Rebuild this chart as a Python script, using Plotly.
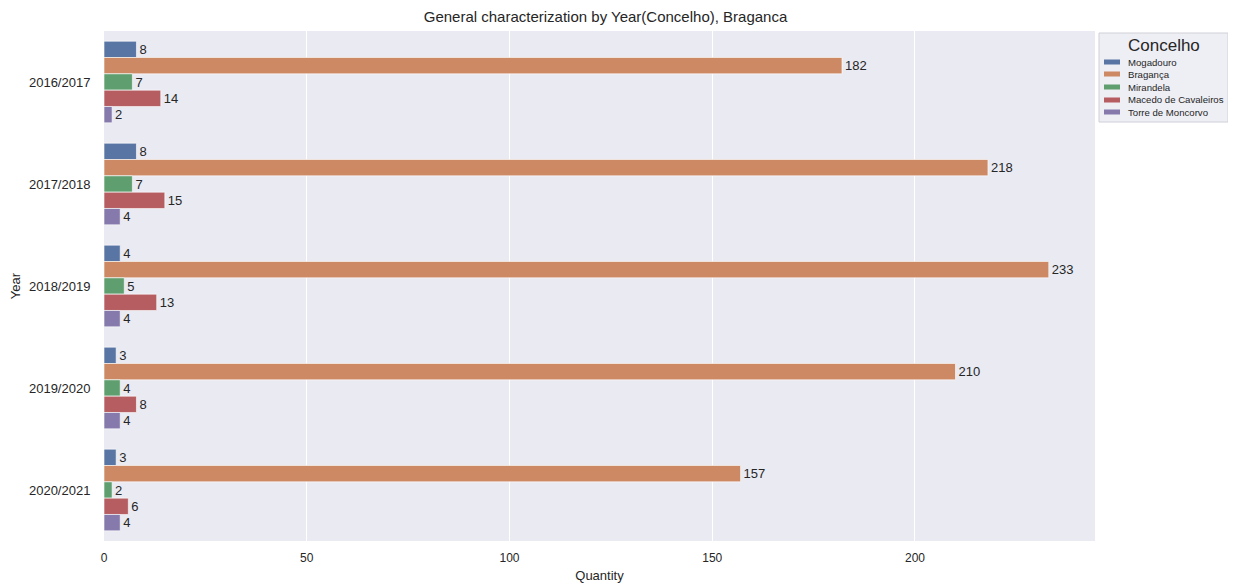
import plotly.graph_objects as go

years = ["2016/2017", "2017/2018", "2018/2019", "2019/2020", "2020/2021"]
concelhos = ["Mogadouro", "Bragança", "Mirandela", "Macedo de Cavaleiros", "Torre de Moncorvo"]
mogadouro = [8, 8, 4, 3, 3]
braganca = [182, 218, 233, 210, 157]
mirandela = [7, 7, 5, 4, 2]
macedo = [14, 15, 13, 8, 6]
moncorvo = [2, 4, 4, 4, 4]
series = [mogadouro, braganca, mirandela, macedo, moncorvo]
colors = ["#5975a4", "#cc8963", "#5f9e6e", "#b55d60", "#857aab"]
x_ticks = [0, 50, 100, 150, 200]

W, H = 1228, 576          # page body has an 8px margin: figure occupies 8..1236 x 8..584
ML, MR, MT, MB = 96, 141, 23, 43
PW, PH = W - ML - MR, H - MT - MB


def px_x(x):
    return (x - ML) / PW


def px_y(y):
    return (H - MB - y) / PH


fig = go.Figure()
for name, vals, col in zip(concelhos, series, colors):
    fig.add_trace(go.Bar(
        y=years, x=vals, name=name, orientation="h",
        marker=dict(color=col, line=dict(color="rgba(255,255,255,0.6)", width=1)),
        text=[str(v) for v in vals], textposition="outside",
        textfont=dict(size=13, color="#262626", family="Liberation Sans, Arial"),
        cliponaxis=False, showlegend=False,
    ))

# legend box (drawn manually to match the compact matplotlib legend)
shapes = [dict(type="rect", xref="paper", yref="paper",
               x0=px_x(1091), x1=px_x(1220), y0=px_y(25), y1=px_y(114),
               fillcolor="rgba(234,234,242,0.8)", line=dict(color="#d0d0d8", width=1),
               layer="above")]
annotations = [dict(text="Concelho", xref="paper", yref="paper", x=px_x(1156), y=px_y(37),
                    xanchor="center", yanchor="middle", showarrow=False,
                    font=dict(size=17, color="#262626"))]
row_y = [54, 66, 79, 92, 104]
for name, col, ry in zip(concelhos, colors, row_y):
    shapes.append(dict(type="rect", xref="paper", yref="paper",
                       x0=px_x(1096), x1=px_x(1112), y0=px_y(ry - 2.5), y1=px_y(ry + 2.5),
                       fillcolor=col, line=dict(width=0), layer="above"))
    annotations.append(dict(text=name, xref="paper", yref="paper", x=px_x(1118), y=px_y(ry),
                            xanchor="left", yanchor="middle", showarrow=False,
                            font=dict(size=9.6, color="#262626")))

fig.update_layout(
    template="none",
    width=W, height=H,
    margin=dict(l=ML, r=MR, t=MT, b=MB, autoexpand=False),
    paper_bgcolor="white", plot_bgcolor="#eaeaf2",
    barmode="group", bargap=0.2, bargroupgap=0,
    font=dict(family="Liberation Sans, Arial", color="#262626"),
    title=dict(text="General characterization by Year(Concelho), Braganca",
               x=0.5 + 6 / PW, xref="paper", xanchor="center", y=1 - 9 / H, yref="container",
               yanchor="middle", font=dict(size=15, color="#262626")),
    shapes=shapes, annotations=annotations,
    showlegend=False,
)
fig.update_xaxes(range=[0, 244.4], tickvals=x_ticks, showgrid=True, gridcolor="white",
                 gridwidth=1, zeroline=False, showline=False, ticks="outside",
                 ticklen=6, tickcolor="rgba(0,0,0,0)", automargin=False,
                 tickfont=dict(size=12, color="#262626"),
                 title=dict(text="Quantity", font=dict(size=13), standoff=6))
fig.update_yaxes(autorange="reversed", showgrid=False, zeroline=False, ticks="outside",
                 ticklen=10, tickcolor="rgba(0,0,0,0)", automargin=False,
                 tickfont=dict(size=13, color="#262626"),
                 title=dict(text="Year", font=dict(size=13), standoff=6))

fig.write_html("out.html")
